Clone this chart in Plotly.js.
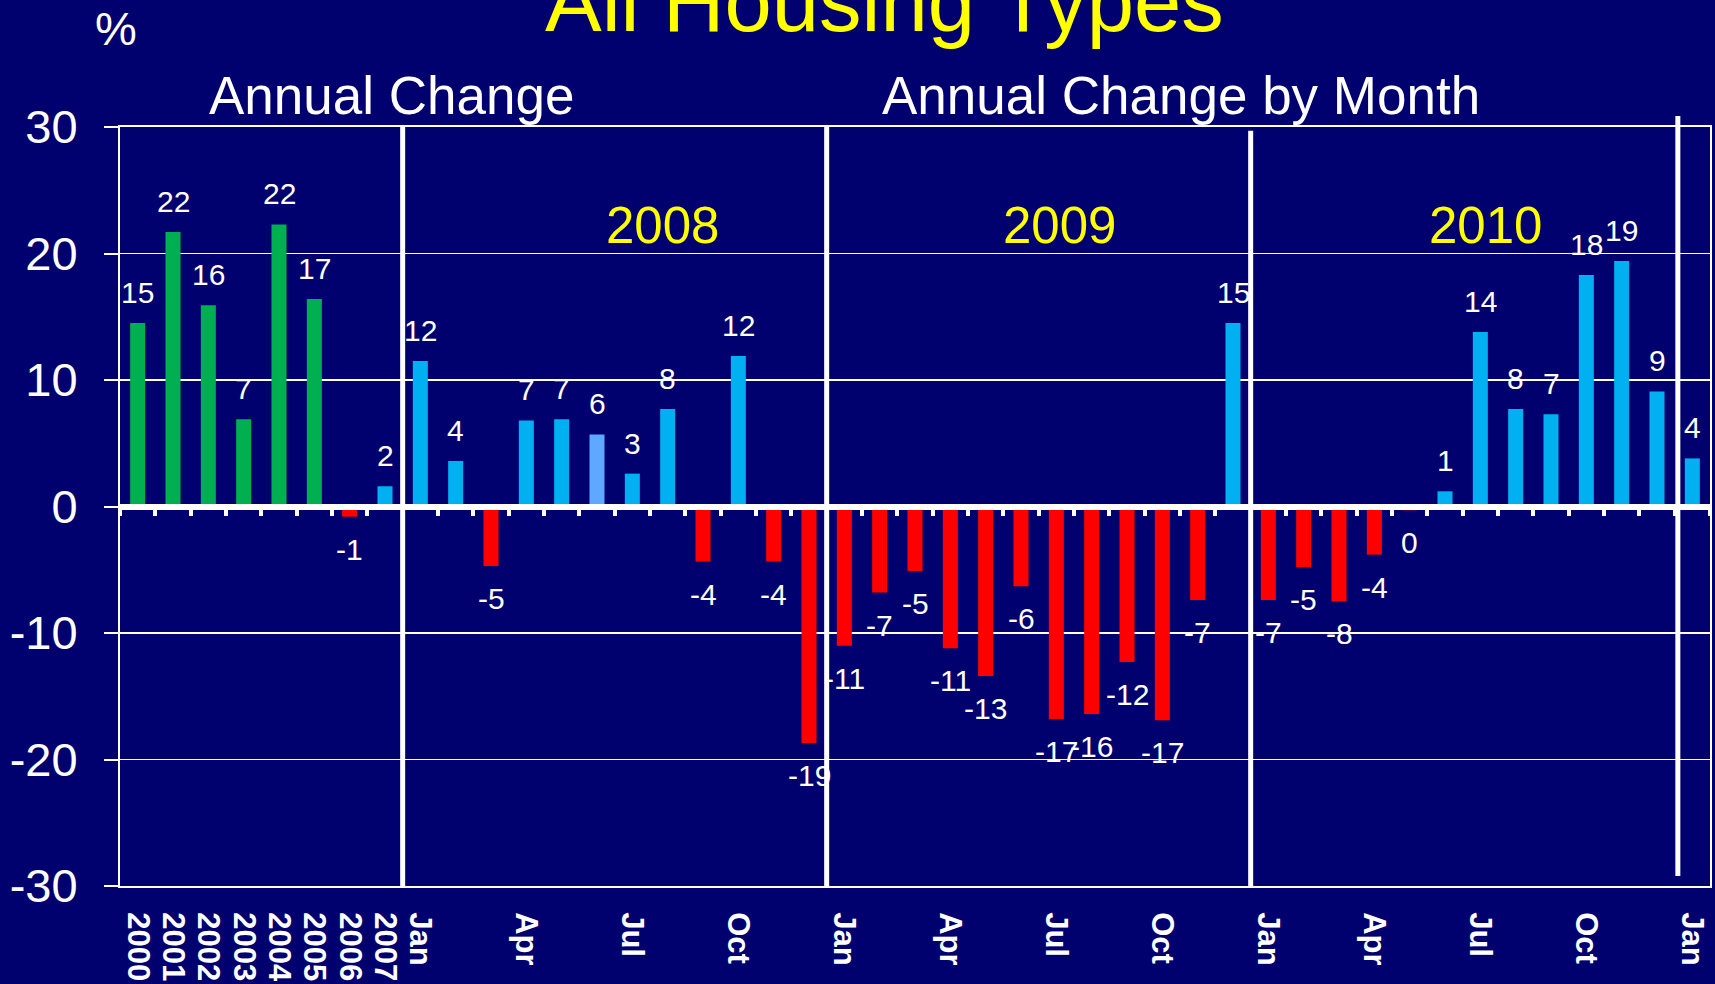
<!DOCTYPE html>
<html>
<head>
<meta charset="utf-8">
<script src="https://cdn.plot.ly/plotly-3.0.1.min.js"></script>
<style>
  html, body { margin: 0; padding: 0; background: #00006e; }
  #chart { width: 1715px; height: 984px; }
</style>
</head>
<body>
<div id="chart"></div>
<script>
// ---------------- DATA ----------------
const years = ['2000', '2001', '2002', '2003', '2004', '2005', '2006', '2007'];
const annualValues = [14.5, 21.7, 15.9, 6.9, 22.3, 16.4, -0.8, 1.6];
const annualLabels = ['15', '22', '16', '7', '22', '17', '-1', '2'];

const monthNames = ['Jan', 'Feb', 'Mar', 'Apr', 'May', 'Jun', 'Jul', 'Aug', 'Sep', 'Oct', 'Nov', 'Dec'];

const values2008 = [11.5, 3.6, -4.7, 6.8, 6.9, 5.7, 2.6, 7.7, -4.35, 11.9, -4.35, -18.7];
const labels2008 = ['12', '4', '-5', '7', '7', '6', '3', '8', '-4', '12', '-4', '-19'];

const values2009 = [-11.0, -6.8, -5.1, -11.2, -13.4, -6.3, -16.8, -16.4, -12.3, -16.9, -7.4, 14.5];
const labels2009 = ['-11', '-7', '-5', '-11', '-13', '-6', '-17', '-16', '-12', '-17', '-7', '15'];

const values2010 = [-7.4, -4.8, -7.5, -3.8, -0.3, 1.2, 13.8, 7.7, 7.3, 18.3, 19.4, 9.1];
const labels2010 = ['-7', '-5', '-8', '-4', '0', '1', '14', '8', '7', '18', '19', '9'];

const values2011 = [3.8];
const labels2011 = ['4'];

const yearHeaders = ['2008', '2009', '2010'];
const yTicks = [-30, -20, -10, 0, 10, 20, 30];

// ---------------- BUILD ----------------
const monthCats = (yr, n) => monthNames.slice(0, n).map(m => m + ' ' + yr);
const categories = [].concat(
  years,
  monthCats(2008, 12), monthCats(2009, 12), monthCats(2010, 12), monthCats(2011, 1)
);
const values = [].concat(annualValues, values2008, values2009, values2010, values2011);
const labels = [].concat(annualLabels, labels2008, labels2009, labels2010, labels2011);
const tickText = categories.map((c, i) => {
  if (i < years.length) return c;
  const m = c.split(' ')[0];
  return ['Jan', 'Apr', 'Jul', 'Oct'].indexOf(m) >= 0 ? m : '';
});

const GREEN = '#00b050', BLUE = '#00b0f0', RED = '#ff0000', LIGHTBLUE = '#5fa8ff';
const colors = categories.map((c, i) => {
  const v = values[i];
  if (v < 0) return RED;
  if (i < years.length - 1) return GREEN;
  if (c === 'Jun 2008') return LIGHTBLUE;
  return BLUE;
});

// geometry helpers (page pixels -> paper fractions)
const W = 1715, H = 984, L = 120, R = 5, T = 127, B = 98;
const PW = W - L - R, PH = H - T - B;
const px = x => (x - L) / PW;
const py = y => (H - B - y) / PH;

const FONT = 'Liberation Sans, Arial, sans-serif';

const n = categories.length;
const indices = categories.map((c, i) => i);

const traces = [
  {
    type: 'bar',
    x: categories,
    y: values,
    marker: { color: colors, line: { width: 0 } },
    hoverinfo: 'x+y',
    showlegend: false
  },
  {
    // invisible helper so the zero-line axis is instantiated
    type: 'scatter',
    mode: 'markers',
    x: indices,
    y: values,
    xaxis: 'x2',
    marker: { opacity: 0, size: 1 },
    hoverinfo: 'skip',
    showlegend: false
  }
];

// data labels (x given as category index so numeric-looking years are not misread)
const annotations = categories.map((c, i) => {
  const v = values[i];
  const pos = v >= 0;
  return {
    x: indices[i], y: v, xref: 'x', yref: 'y',
    text: labels[i],
    showarrow: false,
    xanchor: 'center',
    yanchor: pos ? 'bottom' : 'top',
    yshift: pos ? 12 : -14,
    font: { family: FONT, size: 30, color: '#ffffff' }
  };
});

function textAt(text, cx, baseline, size, color, weight) {
  return {
    xref: 'paper', yref: 'paper',
    x: px(cx), y: py(baseline + 0.212 * size + 1),
    xanchor: 'center', yanchor: 'bottom',
    text: text, showarrow: false,
    font: { family: FONT, size: size, color: color, weight: weight || 'normal' }
  };
}

annotations.push(textAt('All Housing Types', 884, 32, 85, '#ffff00'));
annotations.push(textAt('%', 116, 46, 47, '#ffffff'));
annotations.push(textAt('Annual Change', 391, 115, 53, '#ffffff'));
annotations.push(textAt('Annual Change by Month', 1181, 115, 53, '#ffffff'));
const headerX = [662, 1059, 1485];
yearHeaders.forEach((t, k) => annotations.push(textAt(t, headerX[k], 244, 51, '#ffff00')));

// vertical dividers at the block boundaries
const b1 = years.length - 0.5;
const b2 = b1 + 12, b3 = b2 + 12, b4 = b3 + 12;
const divider = (xv, y0, y1) => ({
  type: 'line', xref: 'x', yref: 'paper',
  x0: xv, x1: xv, y0: y0, y1: y1,
  line: { color: '#ffffff', width: 5 }, layer: 'above'
});
const shapes = [
  divider(b1, 0, 1),
  divider(b2, 0, 1),
  divider(b3, 0, 0.995),
  divider(b4 + 0.09, py(876), py(116))
];

const layout = {
  width: W, height: H,
  margin: { l: L, r: R, t: T, b: B, pad: 0 },
  paper_bgcolor: '#00006e',
  plot_bgcolor: '#00006e',
  font: { family: FONT, color: '#ffffff' },
  bargap: 0.575,
  showlegend: false,
  xaxis: {
    type: 'category',
    categoryorder: 'array',
    categoryarray: categories,
    range: [-0.5, n - 0.5],
    tickmode: 'array',
    tickvals: categories,
    ticktext: tickText,
    tickangle: 90,
    ticks: '',
    ticklabelstandoff: 18,
    tickfont: { family: FONT, size: 31, color: '#ffffff', weight: 'bold' },
    showgrid: false,
    zeroline: false,
    showline: true,
    mirror: true,
    linecolor: '#ffffff',
    linewidth: 2,
    automargin: false,
    fixedrange: true
  },
  xaxis2: {
    overlaying: 'x',
    anchor: 'free',
    position: 0.5,
    side: 'bottom',
    type: 'linear',
    range: [-0.5, n - 0.5],
    tickmode: 'linear',
    tick0: -0.5,
    dtick: 1,
    ticks: 'outside',
    ticklen: 6,
    tickwidth: 4,
    tickcolor: '#ffffff',
    showticklabels: false,
    showgrid: false,
    zeroline: false,
    showline: true,
    linecolor: '#ffffff',
    linewidth: 6,
    automargin: false,
    fixedrange: true
  },
  yaxis: {
    range: [-30, 30],
    tickmode: 'array',
    tickvals: yTicks,
    ticktext: yTicks.map(String),
    ticks: 'outside',
    ticklen: 14,
    tickwidth: 2,
    tickcolor: '#ffffff',
    ticklabelstandoff: 17,
    tickfont: { family: FONT, size: 47, color: '#ffffff' },
    showgrid: true,
    gridcolor: '#ffffff',
    gridwidth: 1.5,
    zeroline: false,
    showline: true,
    mirror: true,
    linecolor: '#ffffff',
    linewidth: 2,
    automargin: false,
    fixedrange: true
  },
  annotations: annotations,
  shapes: shapes
};

Plotly.newPlot('chart', traces, layout, { displayModeBar: false, staticPlot: true });
</script>
</body>
</html>
